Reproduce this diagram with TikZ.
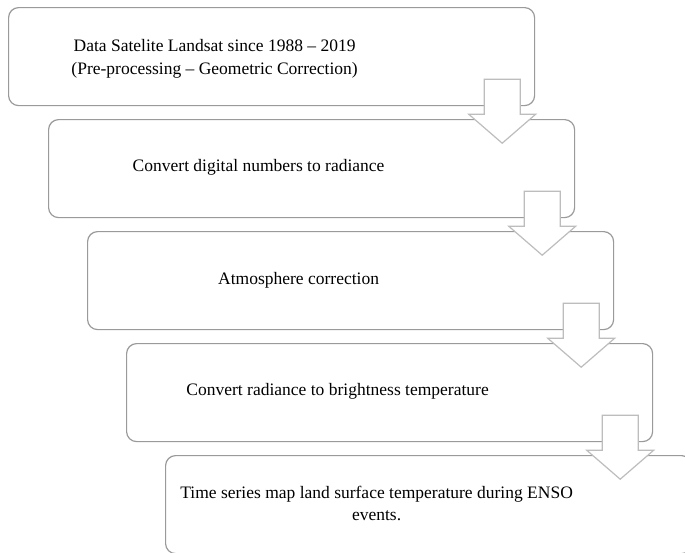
\documentclass[tikz,border=0pt]{standalone}
\usepackage{fontspec}
\setmainfont{Liberation Serif}
\usetikzlibrary{calc}

\definecolor{boxline}{HTML}{9A9A9A}
\definecolor{arrowline}{HTML}{BDBDBD}

\tikzset{
  stepbox/.style={draw=boxline, line width=1.2pt, rounded corners=10pt,
    minimum width=526pt, minimum height=98pt, inner sep=0pt, anchor=north west},
  steptext/.style={align=center, inner sep=0pt, text=black,
    font=\fontsize{17.5}{22.5}\selectfont},
  blockarrow/.style={draw=arrowline, fill=white, line width=1.2pt, line join=miter}
}

% hollow block arrow hanging from the lower right corner of a box
\newcommand\downblock[1]{%
  \draw[blockarrow, shift={($(#1.south east)+(-33,-27)$)}]
    (-18,0) -- (18,0) -- (18,35) -- (33.5,35) -- (0,64)
    -- (-33.5,35) -- (-18,35) -- cycle;
}

\begin{document}
\begin{tikzpicture}[x=1pt,y=-1pt]
  \clip (0,0) rectangle (685,552);
  \fill[white] (0,0) rectangle (685,552);

  % process boxes
  \node[stepbox] (b1) at (8,7)    {};
  \node[stepbox] (b2) at (48,119) {};
  \node[stepbox] (b3) at (87,231) {};
  \node[stepbox] (b4) at (126,343) {};
  \node[stepbox] (b5) at (165,455) {};

  % labels
  \node[steptext] (t1) at ($(b1.center)+(-57,2)$)
    {Data Satelite Landsat since 1988 -- 2019\\(Pre-processing -- Geometric Correction)};
  \node[steptext] (t2) at ($(b2.center)+(-53,-1)$) {Convert digital numbers to radiance};
  \node[steptext] (t3) at ($(b3.center)+(-52,0)$) {Atmosphere correction};
  \node[steptext] (t4) at ($(b4.center)+(-52,-1)$) {Convert radiance to brightness temperature};
  \node[steptext] (t5) at ($(b5.center)+(-52,-1)$)
    {Time series map land surface temperature during ENSO\\events.};

  % arrows between steps
  \downblock{b1}
  \downblock{b2}
  \downblock{b3}
  \downblock{b4}
\end{tikzpicture}
\end{document}
